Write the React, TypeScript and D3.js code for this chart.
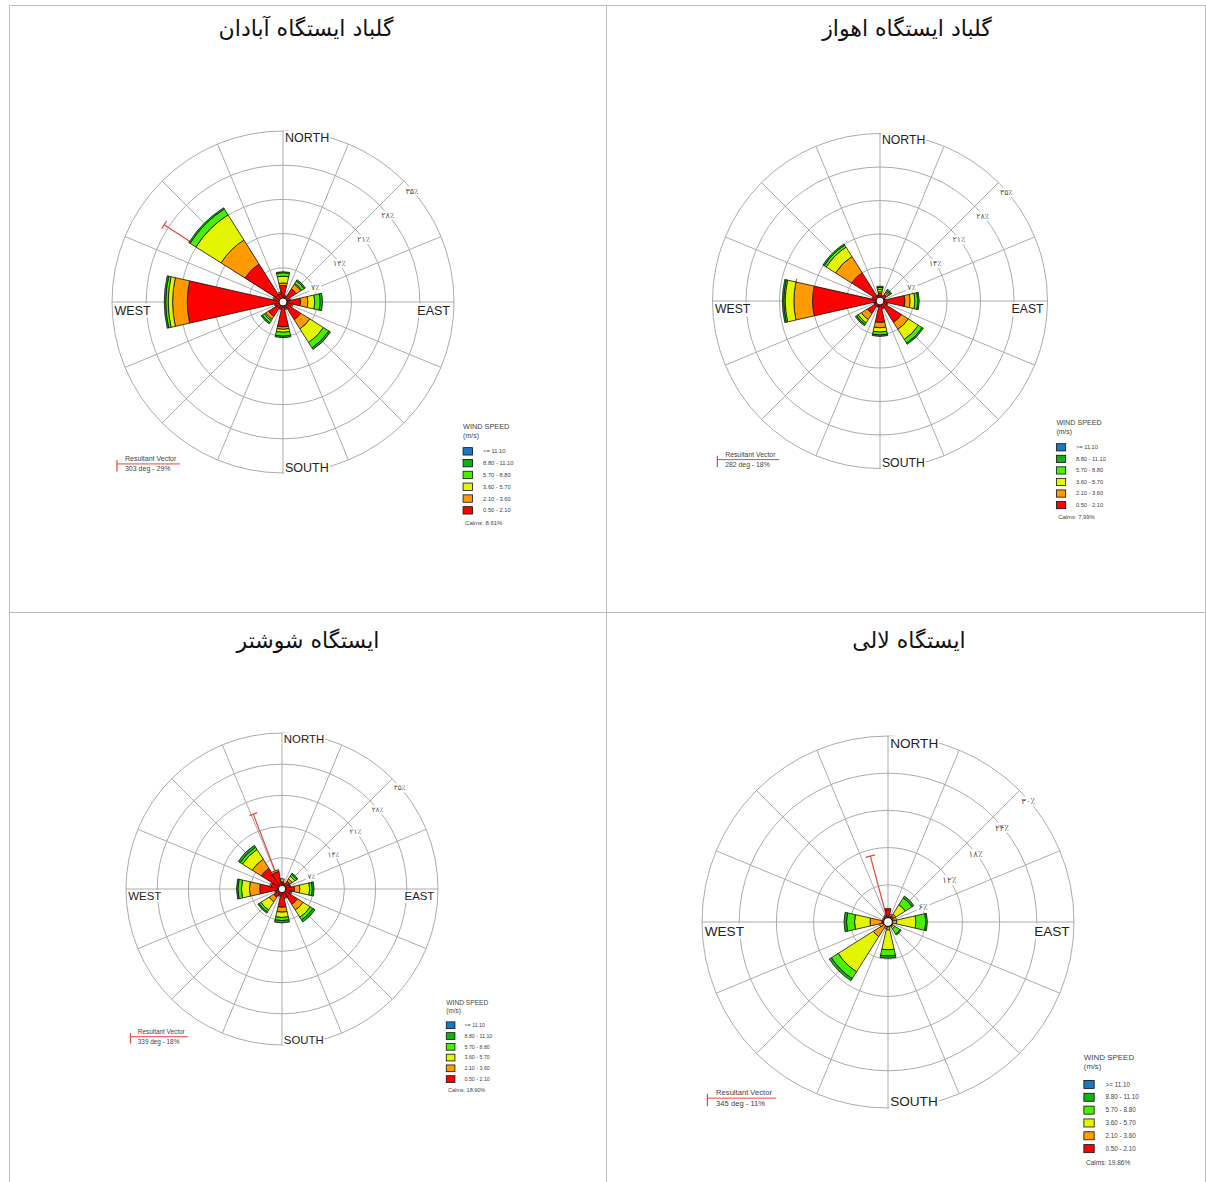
import React, { useEffect, useRef } from 'react';
import * as d3 from 'd3';

// compass sectors, clockwise from north
const directions = ['N', 'NNE', 'NE', 'ENE', 'E', 'ESE', 'SE', 'SSE', 'S', 'SSW', 'SW', 'WSW', 'W', 'WNW', 'NW', 'NNW'];

// speed classes, slowest first (drawn from the centre outwards)
const speedClasses = ['0.50 - 2.10', '2.10 - 3.60', '3.60 - 5.70', '5.70 - 8.80', '8.80 - 11.10', '>= 11.10'];
const classColors = ['#ff0000', '#ff9a00', '#e4f500', '#48f000', '#12b012', '#1b78c0'];

// frequency (%) per direction and speed class
const abadanFreq = [
  [3.4, 0.5, 1.4, 0.7, 0.2, 0],
  [1.2, 0.2, 0, 0, 0, 0],
  [3.2, 1.1, 0.2, 0.6, 0.3, 0],
  [1.4, 0.2, 0, 0, 0, 0],
  [3.6, 1.5, 1.4, 1.1, 0.5, 0],
  [1.8, 0.3, 0, 0, 0, 0],
  [4.3, 2.2, 3.3, 1.3, 0.4, 0],
  [1.4, 0.2, 0, 0, 0, 0],
  [5.1, 0.5, 0.6, 0.8, 0.3, 0],
  [1.4, 0.2, 0, 0, 0, 0],
  [3.5, 0.7, 0.3, 0.5, 0.3, 0],
  [1.6, 0.2, 0, 0, 0, 0],
  [19.6, 3.0, 0.9, 0.5, 0.3, 0],
  [1.8, 0.3, 0, 0, 0, 0],
  [9.2, 5.8, 6.1, 1.4, 0.3, 0],
  [1.8, 0.3, 0, 0, 0, 0],
];

const ahvazFreq = [
  [1.6, 0.35, 0.45, 0.45, 0.25, 0],
  [1.0, 0.2, 0, 0, 0, 0],
  [1.6, 0.4, 0.3, 0.3, 0.3, 0],
  [1.0, 0.1, 0, 0, 0, 0],
  [5.2, 1.1, 1.0, 0.6, 0.3, 0],
  [1.5, 0.2, 0, 0, 0, 0],
  [5.3, 1.7, 2.5, 0.9, 0.3, 0],
  [1.5, 0.2, 0, 0, 0, 0],
  [4.5, 1.1, 0.9, 0.6, 0.3, 0],
  [1.2, 0.1, 0, 0, 0, 0],
  [3.1, 1.5, 0.8, 0.4, 0.3, 0],
  [1.2, 0.1, 0, 0, 0, 0],
  [14.1, 3.9, 1.8, 0.3, 0.3, 0],
  [1.5, 0.2, 0, 0, 0, 0],
  [7.0, 4.0, 2.3, 0.5, 0.3, 0],
  [1.2, 0.1, 0, 0, 0, 0],
];

const shushtarFreq = [
  [1.6, 0.7, 0, 0, 0, 0],
  [1.2, 0.2, 0, 0, 0, 0],
  [2.1, 0.6, 0.7, 0.5, 0.3, 0],
  [1.8, 0.2, 0, 0, 0, 0],
  [2.8, 1.2, 2.2, 0.6, 0.4, 0],
  [2.0, 0.3, 0, 0, 0, 0],
  [4.1, 1.5, 1.9, 0.7, 0.55, 0],
  [2.0, 0.2, 0, 0, 0, 0],
  [4.1, 1.1, 1.2, 0.7, 0.5, 0],
  [1.5, 0.2, 0, 0, 0, 0],
  [2.2, 1.2, 2.2, 0.5, 0.3, 0],
  [1.5, 0.2, 0, 0, 0, 0],
  [5.0, 2.3, 1.8, 0.8, 0.3, 0],
  [2.5, 0.3, 0, 0, 0, 0],
  [5.5, 2.4, 2.6, 0.6, 0.5, 0],
  [4.0, 0.4, 0, 0, 0, 0],
];

const laliFreq = [
  [2.0, 0.2, 0, 0, 0, 0],
  [1.0, 0.3, 0, 0, 0, 0],
  [1.1, 0.4, 1.8, 1.3, 0.35, 0],
  [0.8, 0.3, 0.3, 0, 0, 0],
  [0.6, 0.8, 3.1, 1.6, 0.25, 0],
  [0.6, 0.2, 0, 0, 0, 0],
  [0.8, 0.2, 0.3, 1.0, 0.2, 0],
  [0.6, 0.2, 0, 0, 0, 0],
  [0.75, 0.55, 3.2, 1.0, 0.35, 0],
  [0.8, 0.3, 0, 0, 0, 0],
  [0.5, 2.3, 6.7, 1.3, 0.4, 0],
  [0.8, 0.6, 0, 0, 0, 0],
  [1.0, 1.9, 2.5, 1.3, 0.4, 0],
  [0.6, 0.3, 0, 0, 0, 0],
  [0.8, 0.2, 0, 0, 0, 0],
  [1.0, 0.2, 0, 0, 0, 0],
];

const stationTitles = ['گلباد ایستگاه آبادان', 'گلباد ایستگاه اهواز', 'ایستگاه شوشتر', 'ایستگاه لالی'];
const ringTicks7 = [7, 14, 21, 28, 35];
const ringTicks6 = [6, 12, 18, 24, 30];
const resultantDeg = [303, 282, 339, 345];
const resultantPct = [29, 18, 18, 11];
const calmsPct = ['8.61', '7.99', '18.90', '19.86'];

// where each rose sits on the page
const layout = [
  { cx: 283, cy: 302, R: 171, titleX: 306, titleY: 36 },
  { cx: 880, cy: 301, R: 167.5, titleX: 907, titleY: 36 },
  { cx: 282, cy: 889, R: 156, titleX: 308, titleY: 648 },
  { cx: 888, cy: 922, R: 186, titleX: 909, titleY: 648 },
];

const panels = [
  { freq: abadanFreq, ticks: ringTicks7 },
  { freq: ahvazFreq, ticks: ringTicks7 },
  { freq: shushtarFreq, ticks: ringTicks7 },
  { freq: laliFreq, ticks: ringTicks6 },
];

const toFa = (s) => String(s).replace(/[0-9]/g, (c) => '۰۱۲۳۴۵۶۷۸۹'[+c]);

const SANS = "'Liberation Sans', Arial, sans-serif";
const GRID = '#ababab';

function addBg(g, text, pad) {
  const b = text.node().getBBox();
  g.insert('rect', () => text.node())
    .attr('x', b.x - pad)
    .attr('y', b.y)
    .attr('width', b.width + pad * 2)
    .attr('height', b.height)
    .attr('fill', 'white');
}

function drawRose(svg, idx) {
  const { cx, cy, R, titleX, titleY } = layout[idx];
  const { freq, ticks } = panels[idx];
  const s = R / 171;
  const step = (2 * Math.PI) / directions.length;
  const halfW = ((25.5 / 2) * Math.PI) / 180;

  svg
    .append('text')
    .attr('x', titleX)
    .attr('y', titleY)
    .attr('text-anchor', 'middle')
    .attr('direction', 'rtl')
    .style('font-family', "'DejaVu Sans', sans-serif")
    .style('font-size', '22px')
    .style('fill', '#111')
    .text(stationTitles[idx]);

  const g = svg.append('g').attr('transform', 'translate(' + cx + ',' + cy + ')');
  const r = d3.scaleLinear().domain([0, ticks[ticks.length - 1]]).range([0, R]);

  g.selectAll(null)
    .data(ticks)
    .enter()
    .append('circle')
    .attr('r', (d) => r(d))
    .attr('fill', 'none')
    .attr('stroke', GRID)
    .attr('stroke-width', 1);

  g.selectAll(null)
    .data(directions)
    .enter()
    .append('line')
    .attr('x1', 0)
    .attr('y1', 0)
    .attr('x2', (d, i) => R * Math.sin(i * step))
    .attr('y2', (d, i) => -R * Math.cos(i * step))
    .attr('stroke', GRID)
    .attr('stroke-width', 1);

  // ring labels, persian digits
  ticks.forEach((t) => {
    const d = r(t) * Math.SQRT1_2;
    const txt = g
      .append('text')
      .attr('x', d + 8 * s)
      .attr('y', -d + 10 * s)
      .attr('text-anchor', 'middle')
      .attr('dominant-baseline', 'central')
      .style('font-family', "'DejaVu Sans', sans-serif")
      .style('font-size', 8 * s + 'px')
      .style('fill', '#555')
      .text(toFa(t) + '٪');
    addBg(g, txt, 1.5);
  });

  const compass = [
    { t: 'NORTH', x: 2 * s, y: -R + 11 * s, a: 'start' },
    { t: 'SOUTH', x: 2 * s, y: R - 1.5 * s, a: 'start' },
    { t: 'WEST', x: -R + 2.5 * s, y: 12.5 * s, a: 'start' },
    { t: 'EAST', x: R - 4 * s, y: 12.5 * s, a: 'end' },
  ];
  compass.forEach((c) => {
    const txt = g
      .append('text')
      .attr('x', c.x)
      .attr('y', c.y)
      .attr('text-anchor', c.a)
      .style('font-family', SANS)
      .style('font-size', 12.5 * s + 'px')
      .style('fill', '#222')
      .text(c.t);
    addBg(g, txt, 1);
  });

  // resultant vector
  const ra = (resultantDeg[idx] * Math.PI) / 180;
  const rl = r(resultantPct[idx]);
  const ex = rl * Math.sin(ra);
  const ey = -rl * Math.cos(ra);
  const tk = 4.5 * s;
  g.append('line').attr('x1', 0).attr('y1', 0).attr('x2', ex).attr('y2', ey).attr('stroke', '#e8453c').attr('stroke-width', 1.2);
  g.append('line')
    .attr('x1', ex - tk * Math.cos(ra))
    .attr('y1', ey - tk * Math.sin(ra))
    .attr('x2', ex + tk * Math.cos(ra))
    .attr('y2', ey + tk * Math.sin(ra))
    .attr('stroke', '#e8453c')
    .attr('stroke-width', 1.2);

  // petals
  const arc = d3.arc();
  freq.forEach((row, i) => {
    const a = i * step;
    let cum = 0;
    row.forEach((v, k) => {
      if (v <= 0) return;
      const inner = cum;
      cum += v;
      g.append('path')
        .attr(
          'd',
          arc({ innerRadius: r(inner), outerRadius: r(cum), startAngle: a - halfW, endAngle: a + halfW })
        )
        .attr('fill', classColors[k])
        .attr('stroke', '#111')
        .attr('stroke-width', 0.8)
        .attr('stroke-linejoin', 'round');
    });
  });

  g.append('circle').attr('r', 4 * s).attr('fill', 'white').attr('stroke', '#111').attr('stroke-width', 1);

  // resultant vector legend
  const ax = -0.971 * R;
  const ay = 0.947 * R;
  g.append('line').attr('x1', ax).attr('y1', ay - 4 * s).attr('x2', ax).attr('y2', ay + 7.5 * s).attr('stroke', '#e8453c').attr('stroke-width', 1.2);
  g.append('line').attr('x1', ax).attr('y1', ay).attr('x2', ax + 63 * s).attr('y2', ay).attr('stroke', '#e8453c').attr('stroke-width', 1);
  g.append('text')
    .attr('x', ax + 8 * s)
    .attr('y', ay - 3 * s)
    .style('font-family', SANS)
    .style('font-size', 7 * s + 'px')
    .style('fill', '#444')
    .text('Resultant Vector');
  g.append('text')
    .attr('x', ax + 8 * s)
    .attr('y', ay + 7.5 * s)
    .style('font-family', SANS)
    .style('font-size', 7 * s + 'px')
    .style('fill', '#444')
    .text(resultantDeg[idx] + ' deg - ' + resultantPct[idx] + '%');

  // wind speed legend
  const lx = 1.053 * R;
  const ly = 0.743 * R;
  g.append('text').attr('x', lx).attr('y', ly).style('font-family', SANS).style('font-size', 7.3 * s + 'px').style('fill', '#444').text('WIND SPEED');
  g.append('text').attr('x', lx).attr('y', ly + 8.5 * s).style('font-family', SANS).style('font-size', 7 * s + 'px').style('fill', '#444').text('(m/s)');
  const legendOrder = speedClasses.map((c, k) => k).reverse();
  const rowY = d3.scaleLinear().domain([0, 1]).range([ly + 22.3 * s, ly + 34.1 * s]);
  legendOrder.forEach((k, j) => {
    g.append('rect')
      .attr('x', lx)
      .attr('y', rowY(j) - 3.7 * s)
      .attr('width', 9.5 * s)
      .attr('height', 7.4 * s)
      .attr('fill', classColors[k])
      .attr('stroke', '#111')
      .attr('stroke-width', 0.8);
    g.append('text')
      .attr('x', lx + 20 * s)
      .attr('y', rowY(j) + 2 * s)
      .style('font-family', SANS)
      .style('font-size', 5.8 * s + 'px')
      .style('fill', '#444')
      .text(speedClasses[k]);
  });
  g.append('text')
    .attr('x', lx + 2 * s)
    .attr('y', ly + 96 * s)
    .style('font-family', SANS)
    .style('font-size', 6 * s + 'px')
    .style('fill', '#444')
    .text('Calms: ' + calmsPct[idx] + '%');
}

export default function App() {
  const ref = useRef(null);

  useEffect(() => {
    document.body.style.margin = '0';
    const svg = d3.select(ref.current);
    svg.selectAll('*').remove();
    svg.append('rect').attr('width', 1206).attr('height', 1182).attr('fill', 'white');

    // table borders
    const borders = [
      [9, 5, 1206, 5],
      [9, 5, 9, 1182],
      [606, 5, 606, 1182],
      [1205, 5, 1205, 1182],
      [9, 612, 1206, 612],
    ];
    svg
      .selectAll(null)
      .data(borders)
      .enter()
      .append('line')
      .attr('x1', (d) => d[0] + 0.5)
      .attr('y1', (d) => d[1] + 0.5)
      .attr('x2', (d) => d[2] + 0.5)
      .attr('y2', (d) => d[3] + 0.5)
      .attr('stroke', '#bdbdbd')
      .attr('stroke-width', 1);

    panels.forEach((p, i) => drawRose(svg, i));
  }, []);

  return <svg ref={ref} width={1206} height={1182} style={{ display: 'block' }} />;
}
